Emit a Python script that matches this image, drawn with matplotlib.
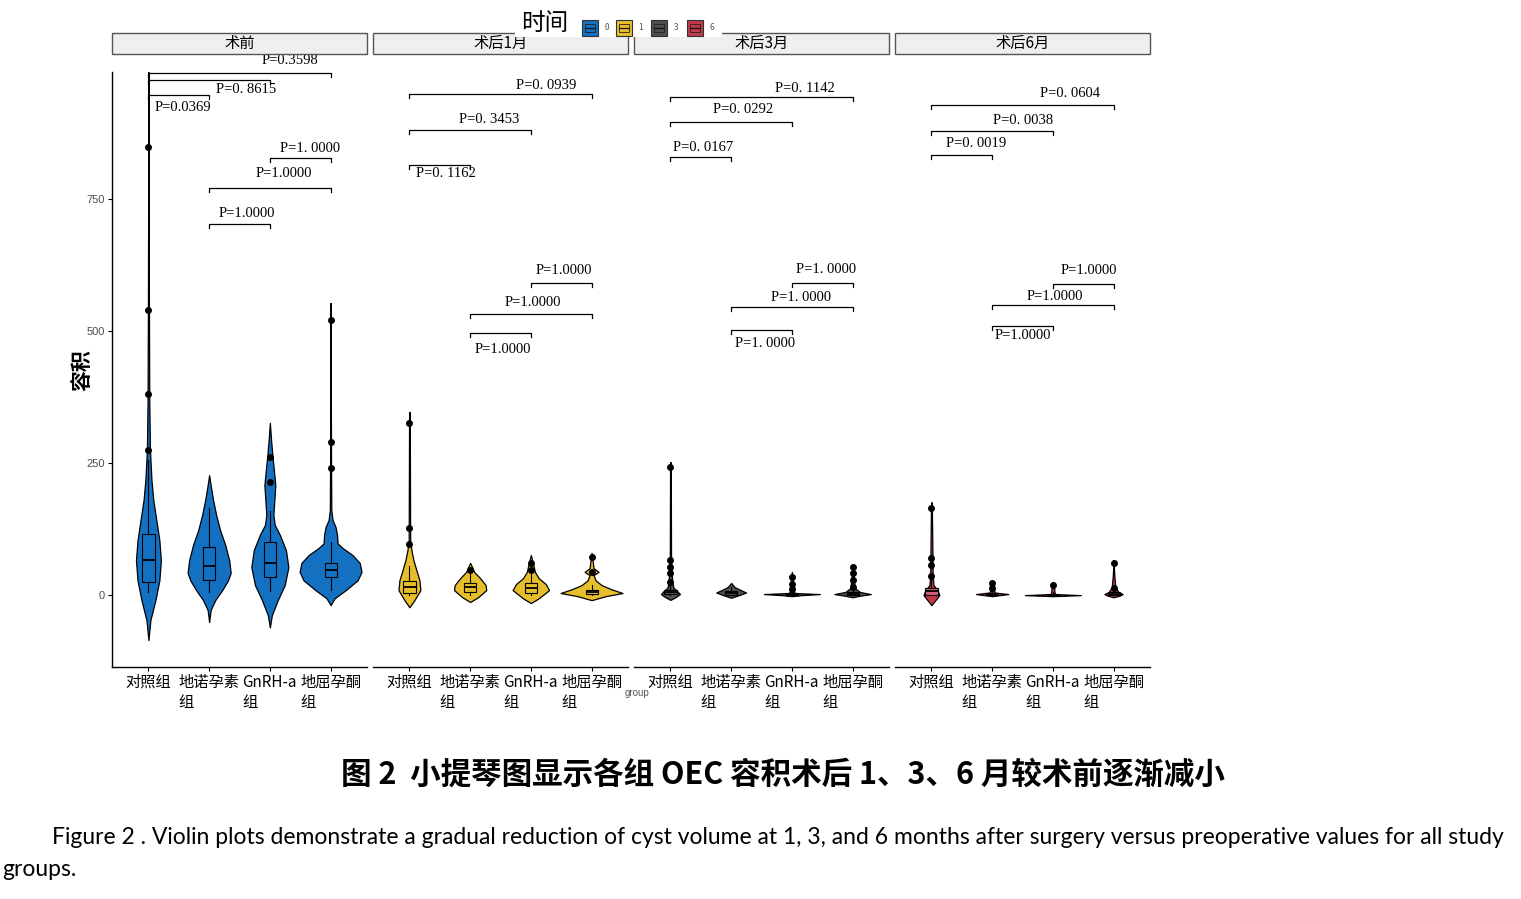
import matplotlib
matplotlib.use('Agg')
import matplotlib.pyplot as plt
from matplotlib.patches import Rectangle

plt.rcParams['font.family'] = ['Noto Sans CJK SC', 'DejaVu Sans']

periods = ['术前', '术后1月', '术后3月', '术后6月']
groups = ['对照组', '地诺孕素\n组', 'GnRH-a\n组', '地屈孕酮\n组']
time_keys = ['0', '1', '3', '6']
colors = ['#1470C0', '#E6BD2A', '#4F4F4F', '#C23A4A']

# violin outlines: volume -> half width (category units)
pre_vals = [
    [-85, -47, -9.5, 28, 66, 104, 142, 180, 218, 275, 369, 559, 990],
    [-51, -28, -9.5, 9.5, 28, 42, 66, 95, 123, 152, 180, 208, 227],
    [-61, -38, -9.5, 19, 53, 85, 114, 133, 152, 180, 208, 237, 265, 294, 326],
    [-19, -6, 9.5, 28, 44, 61, 76, 89, 98, 114, 129, 142, 161, 250, 553],
]
pre_hw = [
    [0, .033, .115, .18, .205, .18, .13, .08, .05, .025, .014, .008, 0],
    [0, .025, .1, .215, .31, .355, .33, .265, .18, .115, .065, .025, 0],
    [0, .033, .13, .245, .305, .265, .165, .08, .058, .074, .09, .066, .041, .02, 0],
    [0, .066, .25, .445, .51, .48, .36, .2, .115, .107, .082, .033, .012, .008, 0],
]
m1_vals = [
    [-23, -9.5, 9.5, 28, 47, 66, 85, 104, 331, 347],
    [-13, -4, 9.5, 19, 32, 44, 53, 61],
    [-15, -6, 9.5, 21, 32, 44, 57, 76],
    [-9.5, -2, 4, 11, 19, 28, 38, 44, 51, 80],
]
m1_hw = [
    [0, .082, .18, .165, .115, .066, .033, .012, .006, 0],
    [0, .13, .265, .255, .165, .066, .033, 0],
    [0, .13, .3, .245, .13, .066, .041, 0],
    [0, .23, .51, .33, .165, .066, .033, .115, .033, 0],
]
m3_vals = [
    [-9, -4, 2, 8, 14, 25, 47, 76, 237, 252],
    [-5, 0, 5, 10, 15, 23],
    [-2, 0, 2, 4, 9, 34, 44],
    [-4, -1, 2, 6, 13, 28, 57],
]
m3_hw = [
    [0, .082, .156, .11, .05, .03, .02, .01, .006, 0],
    [0, .13, .245, .15, .06, 0],
    [0, .165, .46, .05, .02, .015, 0],
    [0, .13, .3, .12, .04, .02, 0],
]
m6_vals = [
    [-19, -9.5, 0, 9.5, 19, 38, 161, 176],
    [-2, 0, 2, 5, 13, 23, 28],
    [-2, 0, 2, 6, 19, 25],
    [-4, -1, 2, 6, 15, 38, 66],
]
m6_hw = [
    [0, .066, .13, .1, .033, .02, .008, 0],
    [0, .13, .265, .04, .03, .025, 0],
    [0, .46, .04, .025, .02, 0],
    [0, .1, .15, .08, .03, .012, 0],
]

# box stats: q1, median, q3, lower whisker, upper whisker
pre_box = [(25, 66, 116, 5, 255), (28, 55, 91, 5, 165), (34, 61, 100, 8, 160), (34, 47, 61, 10, 100)]
m1_box = [(4, 15, 26, 0, 55), (6, 15, 23, 0, 40), (4, 13, 23, 0, 45), (2, 6, 10, 0, 20)]
m3_box = [(2, 5, 10, 0, 20), (1, 4, 8, 0, 15), (1, 2, 4, 0, 8), (1, 3, 6, 0, 12)]
m6_box = [(0, 8, 14, 0, 30), (0, 2, 4, 0, 8), (0, 1, 3, 0, 6), (0, 2, 5, 0, 10)]

pre_out = [[275, 381, 540, 849], [], [214, 261], [240, 290, 521]]
m1_out = [[97, 127, 326], [47], [47, 61], [44, 72]]
m3_out = [[25, 42, 53, 66, 242], [], [11, 22, 34], [15, 28, 42, 53]]
m6_out = [[36, 57, 70, 165], [13, 23], [19], [13, 61]]

# pairwise comparisons
pairs = [(1, 4), (1, 3), (1, 2), (3, 4), (2, 4), (2, 3)]
pre_p = ['P=0.3598', 'P=0. 8615', 'P=0.0369', 'P=1. 0000', 'P=1.0000', 'P=1.0000']
m1_p = ['P=0. 0939', 'P=0. 3453', 'P=0. 1162', 'P=1.0000', 'P=1.0000', 'P=1.0000']
m3_p = ['P=0. 1142', 'P=0. 0292', 'P=0. 0167', 'P=1. 0000', 'P=1. 0000', 'P=1. 0000']
m6_p = ['P=0. 0604', 'P=0. 0038', 'P=0. 0019', 'P=1.0000', 'P=1.0000', 'P=1.0000']

# bracket heights and label spots (x in category units, y in volume units)
pre_br = [989, 975, 947, 828, 771, 703]
m1_br = [949, 881, 814, 591, 532, 496]
m3_br = [943, 896, 830, 591, 545, 502]
m6_br = [928, 879, 833, 589, 549, 509]
pre_lab = [(3.33, 1011), (2.61, 956), (1.57, 922), (3.66, 845), (3.23, 797), (2.62, 723)]
m1_lab = [(3.25, 964), (2.31, 900), (1.60, 797), (3.55, 614), (3.04, 553), (2.54, 464)]
m3_lab = [(3.22, 958), (2.20, 919), (1.54, 847), (3.56, 616), (3.15, 563), (2.56, 477)]
m6_lab = [(3.28, 949), (2.51, 898), (1.73, 854), (3.60, 614), (3.04, 566), (2.51, 491)]

W, H = 1521, 899
fig = plt.figure(figsize=(W / 100, H / 100), dpi=100)


def fx(x):
    return x / W


def fy(y):
    return 1 - y / H


panel_left = [112, 373, 634, 895]
panel_w = 255
all_vals = [pre_vals, m1_vals, m3_vals, m6_vals]
all_hw = [pre_hw, m1_hw, m3_hw, m6_hw]
all_box = [pre_box, m1_box, m3_box, m6_box]
all_out = [pre_out, m1_out, m3_out, m6_out]
all_p = [pre_p, m1_p, m3_p, m6_p]
all_br = [pre_br, m1_br, m3_br, m6_br]
all_lab = [pre_lab, m1_lab, m3_lab, m6_lab]

for i, period in enumerate(periods):
    ax = fig.add_axes([fx(panel_left[i]), fy(667), panel_w / W, (667 - 72) / H])
    ax.set_xlim(0.4, 4.6)
    ax.set_ylim(-136, 990)
    col = colors[i]

    for j in range(4):
        v = all_vals[i][j]
        hw = all_hw[i][j]
        ax.fill_betweenx(v, [j + 1 - h for h in hw], [j + 1 + h for h in hw],
                         facecolor=col, edgecolor='black', linewidth=0.9, zorder=2)

    stats = []
    for j in range(4):
        q1, med, q3, lo, hi = all_box[i][j]
        stats.append(dict(q1=q1, med=med, q3=q3, whislo=lo, whishi=hi, fliers=all_out[i][j]))
    box_face = '#D0607A' if i == 3 else col
    ax.bxp(stats, positions=[1, 2, 3, 4], widths=0.2, patch_artist=True, showcaps=False,
           boxprops=dict(facecolor=box_face, edgecolor='black', linewidth=0.8),
           medianprops=dict(color='black', linewidth=1.3),
           whiskerprops=dict(color='black', linewidth=0.8),
           flierprops=dict(marker='o', markerfacecolor='black', markeredgecolor='black', markersize=4),
           manage_ticks=False, zorder=3)

    # significance brackets
    for k, (a, b) in enumerate(pairs):
        yb = all_br[i][k]
        ax.plot([a, a, b, b], [yb - 8, yb, yb, yb - 8], color='black', linewidth=0.9, clip_on=False)
        lx, ly = all_lab[i][k]
        ax.text(lx, ly, all_p[i][k], ha='center', va='center', fontsize=10.5,
                family=['Liberation Serif', 'DejaVu Serif'], clip_on=False)

    for s in ['top', 'right']:
        ax.spines[s].set_visible(False)
    ax.spines['bottom'].set_linewidth(1.0)
    ax.set_xticks([1, 2, 3, 4])
    ax.set_xticklabels(groups, fontsize=11, multialignment='left', va='top')
    ax.tick_params(axis='x', length=3, pad=2)
    if i == 0:
        ax.spines['left'].set_linewidth(1.0)
        ax.set_yticks([0, 250, 500, 750])
        ax.set_yticklabels(['0', '250', '500', '750'], fontsize=8, color='#4D4D4D',
                           family='Liberation Sans')
        ax.tick_params(axis='y', length=3, pad=2)
    else:
        ax.spines['left'].set_visible(False)
        ax.set_yticks([])

    # facet strip
    fig.patches.append(Rectangle((fx(panel_left[i]), fy(54)), panel_w / W, 21 / H,
                                 transform=fig.transFigure, facecolor='#EFEFEF',
                                 edgecolor='#555555', linewidth=1.0))
    fig.text(fx(panel_left[i] + panel_w / 2), fy(43.5), period, ha='center', va='center', fontsize=11)

# legend
fig.patches.append(Rectangle((fx(515), fy(37)), 207 / W, 30 / H, transform=fig.transFigure,
                             facecolor='white', edgecolor='none', zorder=5))
fig.text(fx(545), fy(24), '时间', ha='center', va='center', fontsize=17, zorder=6)
key_x = [582, 616, 651, 687]
for k, lab in enumerate(time_keys):
    x0 = key_x[k]
    fig.patches.append(Rectangle((fx(x0), fy(36)), 16 / W, 16 / H, transform=fig.transFigure,
                                 facecolor=colors[k], edgecolor='#333333', linewidth=0.8, zorder=6))
    fig.patches.append(Rectangle((fx(x0 + 3), fy(32)), 10 / W, 8 / H, transform=fig.transFigure,
                                 facecolor='none', edgecolor='#222222', linewidth=0.6, zorder=7))
    fig.lines.append(plt.Line2D([fx(x0 + 3), fx(x0 + 13)], [fy(28), fy(28)], transform=fig.transFigure,
                                color='#111111', linewidth=0.9, zorder=7))
    fig.text(fx(x0 + 25), fy(28), lab, ha='center', va='center', fontsize=6, color='#555555', zorder=7)

fig.text(fx(82), fy(370), '容积', rotation=90, ha='center', va='center', fontsize=15, fontweight='bold')
fig.text(fx(637), fy(693), 'group', ha='center', va='center', fontsize=7, color='#555555',
         family='Liberation Sans')

# captions
fig.text(fx(783), fy(775), '图 2  小提琴图显示各组 OEC 容积术后 1、3、6 月较术前逐渐减小',
         ha='center', va='center', fontsize=22, fontweight='bold')
fig.text(fx(52), fy(838), 'Figure 2 . Violin plots demonstrate a gradual reduction of cyst volume at 1, 3, '
         'and 6 months after surgery versus preoperative values for all study',
         ha='left', va='center', fontsize=16.5, family='Lato')
fig.text(fx(2), fy(869), 'groups.', ha='left', va='center', fontsize=16.5, family='Lato')

fig.savefig('out.png', dpi=100)
